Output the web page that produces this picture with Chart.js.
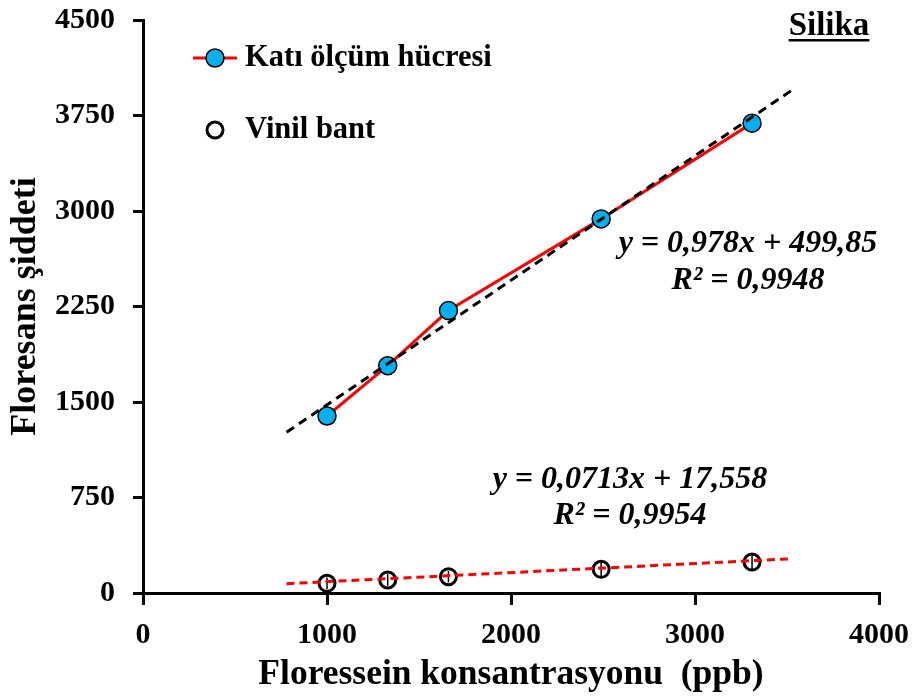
<!DOCTYPE html>
<html>
<head>
<meta charset="utf-8">
<script src="https://cdn.jsdelivr.net/npm/chart.js@4.4.0/dist/chart.umd.min.js"></script>
<style>
  html, body { margin: 0; padding: 0; background: #fff; }
  #wrap { width: 917px; height: 700px; position: relative; }
</style>
</head>
<body>
<div id="wrap"><canvas id="c" width="917" height="700"></canvas></div>
<script>
// Fluorescein concentration (ppb) and measured fluorescence intensity
const concentrations = [1000, 1330, 1660, 2490, 3310];
const katiValues = [1390, 1785, 2218, 2938, 3690];
const vinilValues = [76, 102, 128, 186, 243];
const vinilErrors = [45, 45, 45, 55, 60];

// Linear fits: [slope, intercept], R², and the x span of the drawn trend lines
const katiFit = [0.978, 499.85];
const katiR2 = [0.9948];
const vinilFit = [0.0713, 17.558];
const vinilR2 = [0.9954];
const fitRange = [780, 3530];

const xTicks = [0, 1000, 2000, 3000, 4000];
const yTicks = [0, 750, 1500, 2250, 3000, 3750, 4500];

const seriesNames = ['Katı ölçüm hücresi', 'Vinil bant'];
const panelTitle = 'Silika';
const xTitle = 'Floressein konsantrasyonu  (ppb)';
const yTitle = 'Floresans şiddeti';

const SERIF = '"Liberation Serif", "Times New Roman", serif';
const comma = v => String(v).replace('.', ',');
const fitLine = f => fitRange.map(x => ({ x, y: f[0] * x + f[1] }));
const pts = (xs, ys) => xs.map((x, i) => ({ x, y: ys[i] }));

// keep the plot area fixed: no extra room for overhanging tick labels
const noOverhang = s => { s.paddingTop = 0; s.paddingBottom = 0; s.paddingLeft = 0; s.paddingRight = 0; };

const overlay = {
  id: 'overlay',
  afterDatasetDraw(chart, args) {
    if (args.index !== 1) return;
    const { ctx, scales: { x, y } } = chart;
    ctx.save();
    ctx.strokeStyle = '#000';
    ctx.lineWidth = 1.5;
    concentrations.forEach((c, i) => {
      const px = x.getPixelForValue(c);
      ctx.beginPath();
      ctx.moveTo(px, y.getPixelForValue(vinilValues[i] - vinilErrors[i]));
      ctx.lineTo(px, y.getPixelForValue(vinilValues[i] + vinilErrors[i]));
      ctx.stroke();
    });
    ctx.restore();
  },
  afterDraw(chart) {
    const { ctx } = chart;
    const ds = chart.data.datasets;
    ctx.save();

    // legend
    ctx.strokeStyle = ds[0].borderColor;
    ctx.lineWidth = ds[0].borderWidth;
    ctx.beginPath(); ctx.moveTo(193, 58); ctx.lineTo(237, 58); ctx.stroke();
    ctx.beginPath(); ctx.arc(215, 58, ds[0].pointRadius, 0, Math.PI * 2);
    ctx.fillStyle = ds[0].pointBackgroundColor; ctx.fill();
    ctx.lineWidth = ds[0].pointBorderWidth; ctx.strokeStyle = ds[0].pointBorderColor; ctx.stroke();

    ctx.beginPath(); ctx.arc(215, 130, ds[1].pointRadius, 0, Math.PI * 2);
    ctx.fillStyle = ds[1].pointBackgroundColor; ctx.fill();
    ctx.lineWidth = ds[1].pointBorderWidth; ctx.strokeStyle = ds[1].pointBorderColor; ctx.stroke();

    ctx.fillStyle = '#000';
    ctx.font = 'bold 30.5px ' + SERIF;
    ctx.textBaseline = 'middle';
    ctx.textAlign = 'left';
    ctx.fillText(seriesNames[0], 245, 58);
    ctx.fillText(seriesNames[1], 245, 130);

    // panel title, underlined
    ctx.font = 'bold 33px ' + SERIF;
    ctx.textAlign = 'center';
    ctx.textBaseline = 'alphabetic';
    ctx.fillText(panelTitle, 829, 35);
    const w = ctx.measureText(panelTitle).width;
    ctx.fillRect(829 - w / 2, 39, w, 2.5);

    // fit equations
    ctx.font = 'italic bold 32px ' + SERIF;
    ctx.textBaseline = 'middle';
    ctx.fillText('y = ' + comma(katiFit[0]) + 'x + ' + comma(katiFit[1]), 748, 244);
    ctx.fillText('R² = ' + comma(katiR2[0]), 748, 281);
    ctx.fillText('y = ' + comma(vinilFit[0]) + 'x + ' + comma(vinilFit[1]), 630, 480);
    ctx.fillText('R² = ' + comma(vinilR2[0]), 630, 516);
    ctx.restore();
  }
};

new Chart(document.getElementById('c'), {
  type: 'scatter',
  data: {
    datasets: [
      {
        label: seriesNames[0],
        data: pts(concentrations, katiValues),
        showLine: true,
        borderColor: '#FF0000',
        borderWidth: 3,
        pointRadius: 9,
        pointBackgroundColor: '#00B0F0',
        pointBorderColor: '#000',
        pointBorderWidth: 1.5,
        order: 3
      },
      {
        label: seriesNames[1],
        data: pts(concentrations, vinilValues),
        showLine: false,
        pointRadius: 8,
        pointBackgroundColor: '#FFFFFF',
        pointBorderColor: '#000',
        pointBorderWidth: 3,
        order: 2
      },
      {
        label: 'katiTrend',
        data: fitLine(katiFit),
        showLine: true,
        borderColor: '#000',
        borderWidth: 3,
        borderDash: [9, 6],
        pointRadius: 0,
        order: 1
      },
      {
        label: 'vinilTrend',
        data: fitLine(vinilFit),
        showLine: true,
        borderColor: '#FF0000',
        borderWidth: 3,
        borderDash: [8, 5],
        pointRadius: 0,
        order: 0
      }
    ]
  },
  options: {
    responsive: false,
    animation: false,
    devicePixelRatio: 1,
    layout: { padding: { left: 0, top: 20, right: 38, bottom: 0 } },
    plugins: { legend: { display: false }, tooltip: { enabled: false } },
    scales: {
      x: {
        type: 'linear',
        min: 0, max: 4000,
        afterBuildTicks: s => { s.ticks = xTicks.map(v => ({ value: v })); },
        afterFit: s => { s.height = 107; noOverhang(s); },
        grid: { display: true, drawOnChartArea: false, drawTicks: true, tickLength: 12, color: '#000', lineWidth: 3 },
        border: { display: true, color: '#000', width: 3 },
        ticks: {
          color: '#000', padding: 12, callback: v => String(v),
          font: { family: SERIF, size: 30, weight: 'bold' }
        },
        title: {
          display: true, text: xTitle, color: '#000',
          font: { family: SERIF, size: 35.5, weight: 'bold', lineHeight: 1 },
          padding: { top: 0, bottom: 7 }
        }
      },
      y: {
        type: 'linear',
        min: 0, max: 4500,
        afterBuildTicks: s => { s.ticks = yTicks.map(v => ({ value: v })); },
        afterFit: s => { s.width = 143; noOverhang(s); },
        grid: { display: true, drawOnChartArea: false, drawTicks: true, tickLength: 10, color: '#000', lineWidth: 3 },
        border: { display: true, color: '#000', width: 3 },
        ticks: {
          color: '#000', padding: 18, callback: v => String(v),
          font: { family: SERIF, size: 30, weight: 'bold' }
        },
        title: {
          display: true, text: yTitle, color: '#000',
          font: { family: SERIF, size: 36, weight: 'bold', lineHeight: 1 },
          padding: { top: 8, bottom: 0 }
        }
      }
    }
  },
  plugins: [overlay]
});
</script>
</body>
</html>
